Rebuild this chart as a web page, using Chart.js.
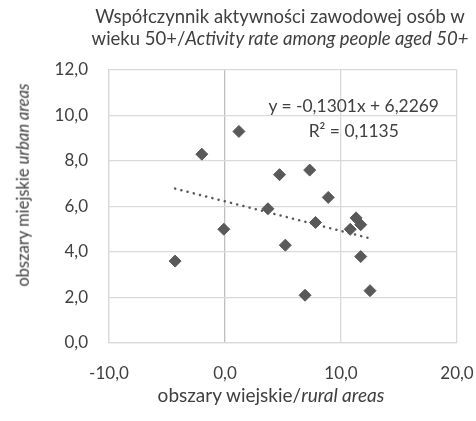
<!DOCTYPE html>
<html>
<head>
<meta charset="utf-8">
<script src="https://cdn.jsdelivr.net/npm/chart.js@4.4.0/dist/chart.umd.min.js"></script>
<style>
  html, body { margin: 0; padding: 0; background: #fff; overflow: hidden; }
  #wrap { position: relative; width: 476px; height: 421px; }
  .lbl { position: absolute; transform: translate(-50%, -50%); white-space: nowrap; font-family: Lato; color: #404040; line-height: 1; }
  .rot { transform: translate(-50%, -50%) rotate(-90deg); }
</style>
</head>
<body>
<div id="wrap">
  <canvas id="chart" width="476" height="421"></canvas>
  <div class="lbl" style="left:280px; top:16px; font-size:18.5px">Współczynnik aktywności zawodowej osób w</div>
  <div class="lbl" style="left:280px; top:38px; font-size:18.5px">wieku 50+/<i>Activity rate among people aged 50+</i></div>
  <div class="lbl" style="left:271px; top:394px; font-size:19px">obszary wiejskie/<i>rural areas</i></div>
  <div class="lbl rot" style="left:23px; top:185px; font-size:16.5px">obszary miejskie <i>urban areas</i></div>
  <div class="lbl" id="eq" style="font-size:17.4px"></div>
  <div class="lbl" id="r2" style="font-size:17.4px"></div>
</div>
<script>
// dane: obszary wiejskie (x) / obszary miejskie (y)
const ruralX = [-4.3, -2.0, -0.1, 1.2, 3.7, 4.7, 5.2, 6.9, 7.3, 7.8, 8.9, 10.8, 11.3, 11.7, 11.7, 12.5];
const urbanY = [3.6, 8.3, 5.0, 9.3, 5.9, 7.4, 4.3, 2.1, 7.6, 5.3, 6.4, 5.0, 5.5, 5.2, 3.8, 2.3];
const xTicks = [-10, 0, 10, 20];
const yTicks = [0, 2, 4, 6, 8, 10, 12];
// linia trendu (z wykresu)
const trendSlope = -0.1301;
const trendIntercept = 6.2269;
const trendR2 = 0.1135;

const FONT = 'Lato';
const TEXT = '#404040';
const MARK = '#595959';

const fmt = (v, d) => v.toFixed(d).replace('.', ',');

const points = ruralX.map((x, i) => ({x: x, y: urbanY[i]}));
const xMin = Math.min(...ruralX), xMax = Math.max(...ruralX);
const trend = [xMin, xMax].map(x => ({x: x, y: trendSlope * x + trendIntercept}));

const chart = new Chart(document.getElementById('chart'), {
    type: 'scatter',
    data: {
        datasets: [
            {
                data: points,
                pointStyle: 'rectRot',
                pointRadius: 6,
                backgroundColor: MARK,
                borderColor: MARK,
                borderWidth: 1
            },
            {
                data: trend,
                showLine: true,
                pointRadius: 0,
                borderColor: MARK,
                borderWidth: 2.5,
                borderDash: [0.1, 6.3],
                borderCapStyle: 'round'
            }
        ]
    },
    options: {
        responsive: false,
        animation: false,
        layout: {padding: {top: 70, right: 0, bottom: 0, left: 0}},
        plugins: {
            legend: {display: false},
            tooltip: {enabled: false}
        },
        scales: {
            x: {
                type: 'linear',
                min: xTicks[0],
                max: xTicks[xTicks.length - 1],
                afterFit: s => { s.height = 78; s.paddingRight = 19; s.paddingLeft = 0; },
                grid: {
                    color: c => (c.tick && c.tick.value === 0) ? '#bfbfbf' : '#d9d9d9',
                    lineWidth: 1.3,
                    drawTicks: false
                },
                border: {color: '#d9d9d9', width: 1.3},
                ticks: {
                    display: false,
                    stepSize: xTicks[1] - xTicks[0],
                    autoSkip: false
                }
            },
            y: {
                type: 'linear',
                min: yTicks[0],
                max: yTicks[yTicks.length - 1],
                afterFit: s => { s.width = 109; },
                grid: {
                    color: '#d9d9d9',
                    lineWidth: 1.3,
                    drawTicks: false
                },
                border: {color: '#d9d9d9', width: 1.3},
                ticks: {
                    stepSize: yTicks[1] - yTicks[0],
                    padding: 21,
                    color: TEXT,
                    font: {family: FONT, size: 17},
                    callback: v => fmt(v, 1)
                }
            }
        }
    }
});

const wrap = document.getElementById('wrap');
const xs = chart.scales.x, ys = chart.scales.y;

// etykiety osi X, rozmieszczone według skali
xTicks.forEach(v => {
    const d = document.createElement('div');
    d.className = 'lbl';
    d.style.fontSize = '17px';
    d.style.left = xs.getPixelForValue(v) + 'px';
    d.style.top = (chart.chartArea.bottom + 29) + 'px';
    d.textContent = fmt(v, 1);
    wrap.appendChild(d);
});

// równanie trendu
const lx = xs.getPixelForValue(11.1);
const ly = ys.getPixelForValue(10.4);
const eq = document.getElementById('eq');
eq.textContent = 'y = ' + fmt(trendSlope, 4) + 'x + ' + fmt(trendIntercept, 4);
eq.style.left = lx + 'px';
eq.style.top = ly + 'px';
const r2 = document.getElementById('r2');
r2.textContent = 'R² = ' + fmt(trendR2, 4);
r2.style.left = lx + 'px';
r2.style.top = (ly + 25) + 'px';
</script>
</body>
</html>
